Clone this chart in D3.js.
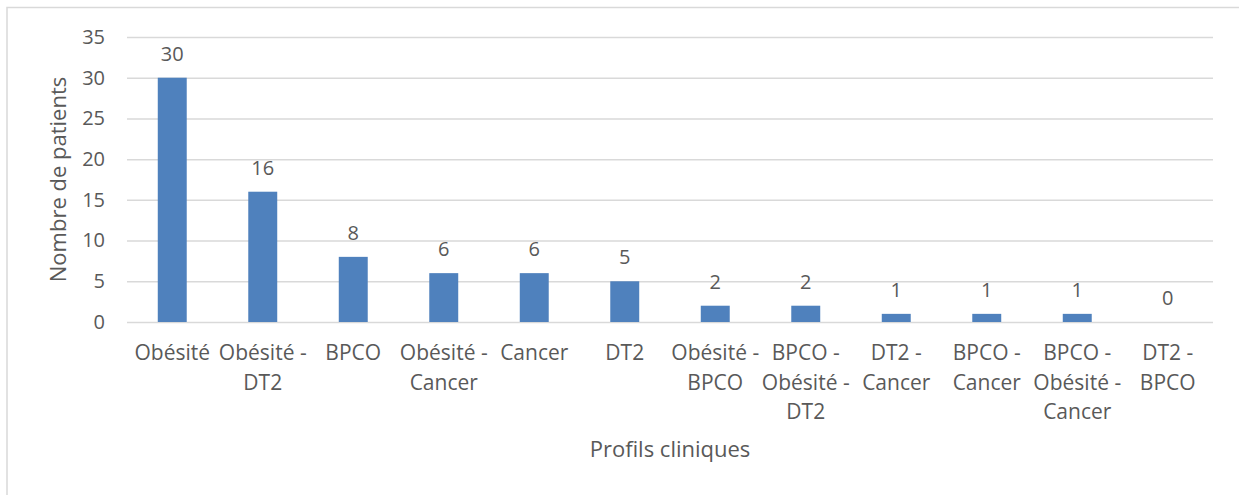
<!DOCTYPE html>
<html>
<head>
<meta charset="utf-8">
<script src="https://cdn.jsdelivr.net/npm/d3@7"></script>
<style>
  html, body { margin: 0; padding: 0; background: #fff; }
  svg { display: block; }
  text { font-family: "Open Sans", "Noto Sans", sans-serif; fill: #595959; }
</style>
</head>
<body>
<svg id="chart" width="1239" height="495"></svg>
<script>
const categories = ["Obésité", "Obésité - DT2", "BPCO", "Obésité - Cancer", "Cancer", "DT2",
  "Obésité - BPCO", "BPCO - Obésité - DT2", "DT2 - Cancer", "BPCO - Cancer",
  "BPCO - Obésité - Cancer", "DT2 - BPCO"];
const values = [30, 16, 8, 6, 6, 5, 2, 2, 1, 1, 1, 0];
const yTicks = [0, 5, 10, 15, 20, 25, 30, 35];
const xTitle = "Profils cliniques";
const yTitle = "Nombre de patients";

const svg = d3.select("#chart");
const m = { left: 127, right: 1213, top: 37, bottom: 322 };
const fsNum = 20;
const fsTxt = 21;

svg.append("rect").attr("x", 7).attr("y", 7.5).attr("width", 1260).attr("height", 520)
  .attr("fill", "none").attr("stroke", "#d9d9d9").attr("stroke-width", 1.5);

const x = d3.scaleBand().domain(categories).range([m.left, m.right]).paddingInner(0.68).paddingOuter(0.34);
const y = d3.scaleLinear().domain([0, 35]).range([m.bottom, m.top]);

// gridlines
const yAxis = d3.axisLeft(y).tickValues(yTicks).tickSize(-(m.right - m.left)).tickPadding(22);
const gy = svg.append("g").attr("transform", `translate(${m.left},0)`).call(yAxis);
gy.select(".domain").remove();
gy.selectAll(".tick line").attr("stroke", "#d9d9d9").attr("stroke-width", 1.5);
gy.selectAll(".tick text").attr("font-size", fsNum).attr("fill", "#595959")
  .style("font-family", '"Open Sans", sans-serif');

// bars
svg.append("g").selectAll("rect").data(values).join("rect")
  .attr("x", (d, i) => x(categories[i]))
  .attr("width", x.bandwidth())
  .attr("y", d => y(d))
  .attr("height", d => y(0) - y(d))
  .attr("fill", "#4f81bd");

// value labels
svg.append("g").selectAll("text").data(values).join("text")
  .attr("x", (d, i) => x(categories[i]) + x.bandwidth() / 2)
  .attr("y", d => y(d) - 17)
  .attr("text-anchor", "middle")
  .attr("font-size", fsNum)
  .text(d => d);

// category labels
const band = x.step();
categories.forEach((c, i) => {
  const parts = c.split(" - ");
  const lines = parts.map((p, j) => j < parts.length - 1 ? p + " -" : p);
  const cx = m.left + band * i + band / 2;
  const t = svg.append("text").attr("text-anchor", "middle").attr("font-size", fsTxt);
  lines.forEach((l, j) => {
    t.append("tspan").attr("x", cx).attr("y", 360 + j * 29.5).text(l);
  });
});

// axis titles
svg.append("text").attr("x", (m.left + m.right) / 2).attr("y", 457)
  .attr("text-anchor", "middle").attr("font-size", fsTxt + 1).text(xTitle);
svg.append("text").attr("transform", `translate(66,${(m.top + m.bottom) / 2}) rotate(-90)`)
  .attr("text-anchor", "middle").attr("font-size", fsTxt + 1).text(yTitle);
</script>
</body>
</html>
